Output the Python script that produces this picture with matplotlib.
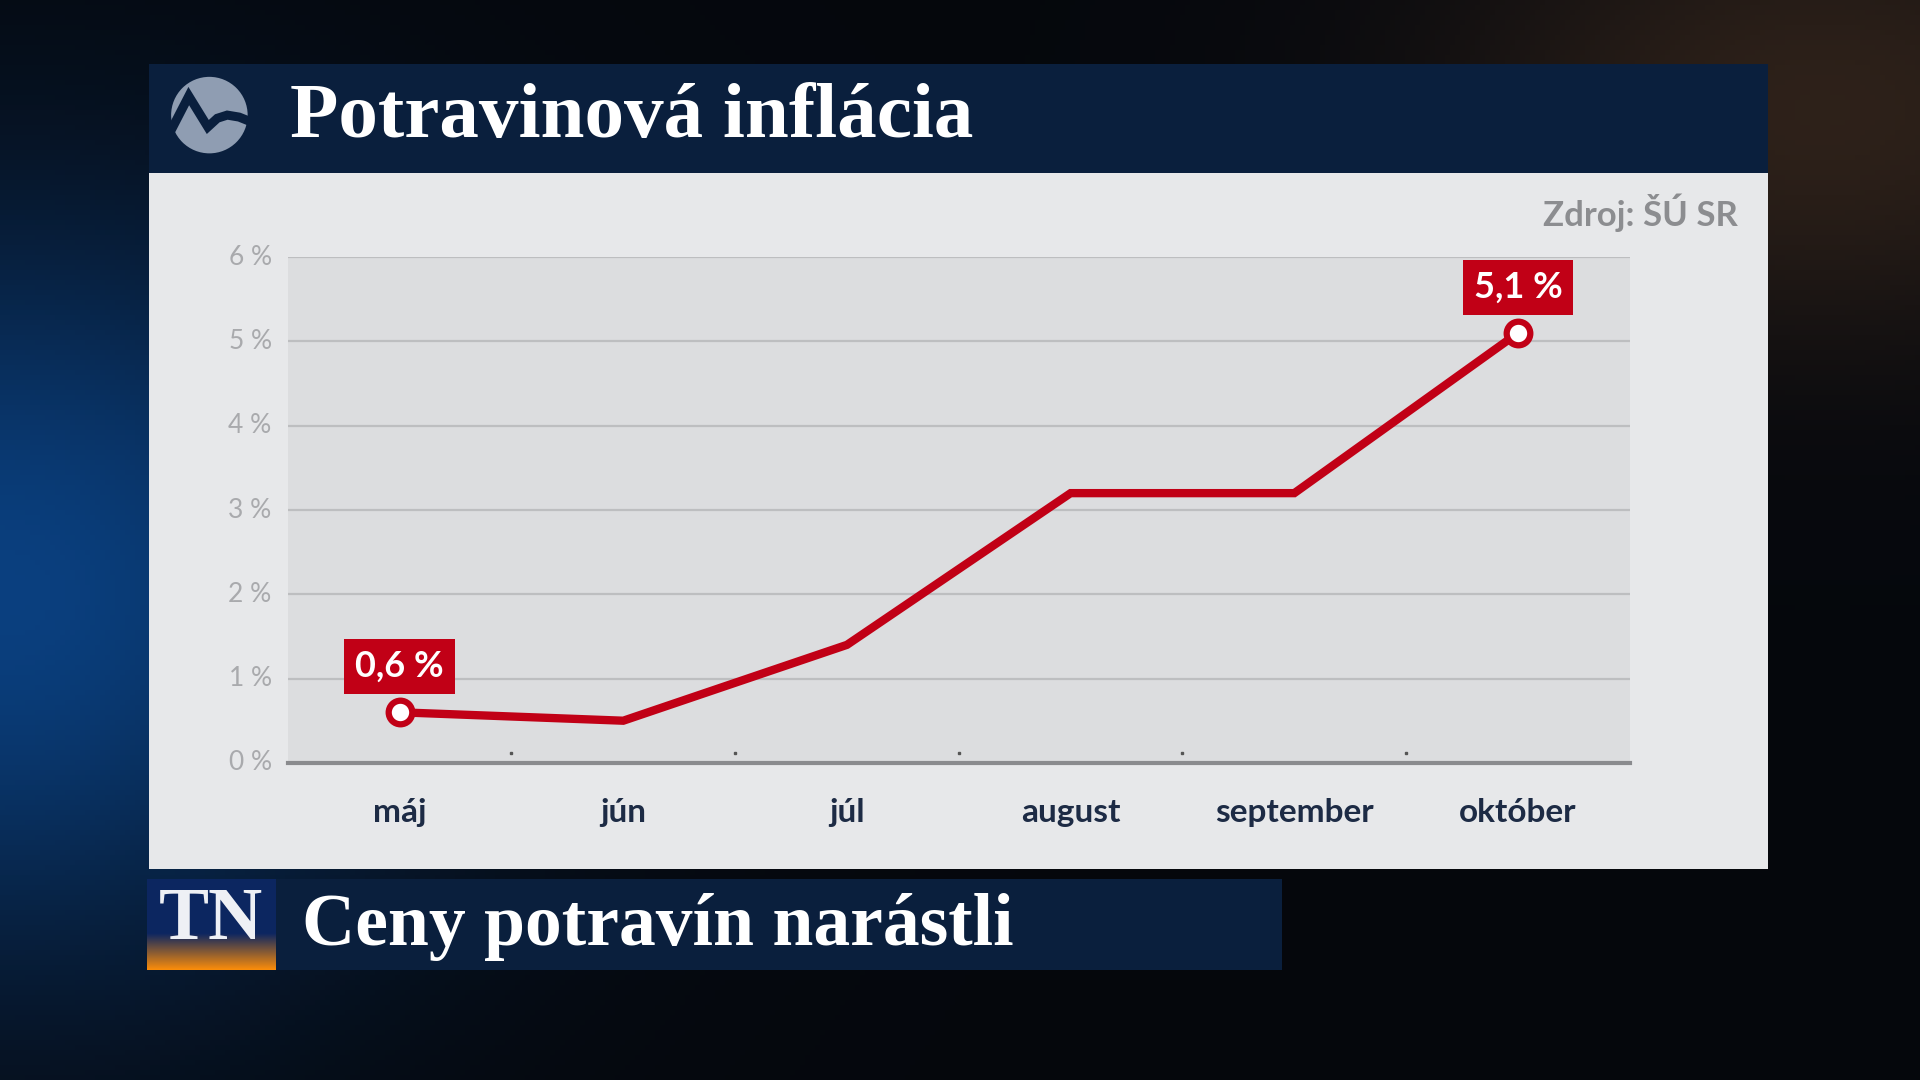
import numpy as np
import matplotlib
matplotlib.use("Agg")
import matplotlib.pyplot as plt
from matplotlib.patches import Rectangle, Circle

# data
months = ["máj", "jún", "júl", "august", "september", "október"]
inflation = [0.6, 0.5, 1.4, 3.2, 3.2, 5.1]
y_ticks = [0, 1, 2, 3, 4, 5, 6]
y_labels = ["0 %", "1 %", "2 %", "3 %", "4 %", "5 %", "6 %"]
highlight = {0: "0,6 %", 5: "5,1 %"}

title = "Potravinová inflácia"
source = "Zdroj: ŠÚ SR"
headline = "Ceny potravín narástli"

NAVY = "#0a1f3d"
RED = "#c10016"

W, H = 1568, 882  # layout measured on this grid


def box(x0, y0, x1, y1):
    # pixel box (top-left origin) -> figure rect
    return [x0 / W, 1 - y1 / H, (x1 - x0) / W, (y1 - y0) / H]


def panel(x0, y0, x1, y1, color):
    r = box(x0, y0, x1, y1)
    fig.patches.append(Rectangle(r[:2], r[2], r[3], transform=fig.transFigure,
                                 facecolor=color, edgecolor="none", zorder=-1))


fig = plt.figure(figsize=(19.2, 10.8), dpi=100)

# background: dark with a blue glow on the left
bg = fig.add_axes([0, 0, 1, 1])
bg.set_zorder(-2)
gx, gy = np.meshgrid(np.linspace(0, 1, 384), np.linspace(0, 1, 216))
blue = np.exp(-((gx - 0.0) ** 2 / 0.05 + (gy - 0.55) ** 2 / 0.12))
warm = np.exp(-((gx - 0.95) ** 2 / 0.04 + (gy - 0.1) ** 2 / 0.05))
img = np.zeros(gx.shape + (3,))
img += np.array([0.02, 0.03, 0.05])
img += blue[..., None] * np.array([0.02, 0.22, 0.45])
img += warm[..., None] * np.array([0.16, 0.10, 0.05])
bg.imshow(np.clip(img, 0, 1), aspect="auto", extent=[0, 1, 0, 1])
bg.set_axis_off()

panel(122, 52, 1444, 141, NAVY)        # title bar
panel(122, 141, 1444, 710, "#e7e8ea")  # chart panel
panel(225, 718, 1047, 792, NAVY)       # headline bar

fig.text(237 / W, 1 - 97 / H, title, color="white", fontsize=57,
         fontfamily="Liberation Serif", fontweight="bold", va="center", ha="left")
fig.text(1419 / W, 1 - 174 / H, source, color="#8c8d90", fontsize=25,
         fontfamily="Lato", fontweight="bold", va="center", ha="right")

# logo
lg = fig.add_axes(box(137, 60, 205, 128))
lg.set_xlim(-1.05, 1.05)
lg.set_ylim(-1.05, 1.05)
lg.set_aspect("equal")
lg.set_axis_off()
lg.add_patch(Circle((0, 0), 1, facecolor="#8f9db2", edgecolor="none"))
zx = [-1.0, -0.52, -0.04, 0.2, 0.45, 0.75, 1.0]
zy = [-0.45, 0.48, -0.30, -0.08, 0.0, -0.05, -0.15]
lg.plot(zx, zy, color=NAVY, lw=6.5, solid_joinstyle="miter", solid_capstyle="butt")
lg.add_patch(Circle((0, 0), 1, facecolor="none", edgecolor=NAVY, lw=2))

# main chart
ax = fig.add_axes(box(235, 210, 1331, 623))
ax.set_facecolor("#dcdddf")
x = np.arange(len(months)) + 0.5
ax.set_xlim(0, len(months))
ax.set_ylim(0, 6)
for t in y_ticks[1:]:
    ax.axhline(t, color="#bdbec0", lw=1.6, zorder=1)
ax.axhline(0, color="#8a8b8e", lw=3, clip_on=False, zorder=2)
for b in range(1, len(months)):
    ax.plot(b, 0.12, marker="s", ms=1.5, color="#555555", zorder=2)

ax.plot(x, inflation, color=RED, lw=6, solid_joinstyle="miter", zorder=3)
for i, lab in highlight.items():
    ax.plot(x[i], inflation[i], marker="o", ms=17, mfc="white", mec=RED, mew=4.5, zorder=4)
    ax.annotate(lab, (x[i], inflation[i]), xytext=(0, 33), textcoords="offset points",
                ha="center", va="center", color="white", fontsize=26,
                fontfamily="Lato", fontweight="bold", zorder=5,
                bbox=dict(boxstyle="square,pad=0.3", facecolor=RED, edgecolor="none"))

ax.set_xticks([])
ax.set_yticks([])
for s in ax.spines.values():
    s.set_visible(False)

for t, lab in zip(y_ticks, y_labels):
    ax.text(-0.012, t, lab, transform=ax.get_yaxis_transform(), ha="right", va="center",
            color="#a9aaad", fontsize=19, fontfamily="Lato")
for xi, m in zip(x, months):
    ax.text(xi, -0.099, m, transform=ax.get_xaxis_transform(), ha="center", va="center",
            color="#1d2b45", fontsize=24, fontfamily="Lato", fontweight="bold")

# TN logo
tn = fig.add_axes(box(120, 718, 225, 792))
grad = np.linspace(0, 1, 100)[:, None]
k = np.clip((grad - 0.6) / 0.4, 0, 1)
tn_img = np.zeros((100, 1, 3))
tn_img[..., 0] = 0.05 + k * 0.93
tn_img[..., 1] = 0.15 + k * 0.40
tn_img[..., 2] = 0.38 - k * 0.34
tn.imshow(np.clip(tn_img, 0, 1), aspect="auto", extent=[0, 1, 0, 1], origin="upper")
tn.set_axis_off()
tn.text(0.5, 0.54, "TN", color="#eef0f5", fontsize=54, fontfamily="Liberation Serif",
        fontweight="bold", ha="center", va="center")

fig.text(247 / W, 1 - 757 / H, headline, color="white", fontsize=53,
         fontfamily="Liberation Serif", fontweight="bold", va="center", ha="left")

fig.savefig("out.png", dpi=100)
